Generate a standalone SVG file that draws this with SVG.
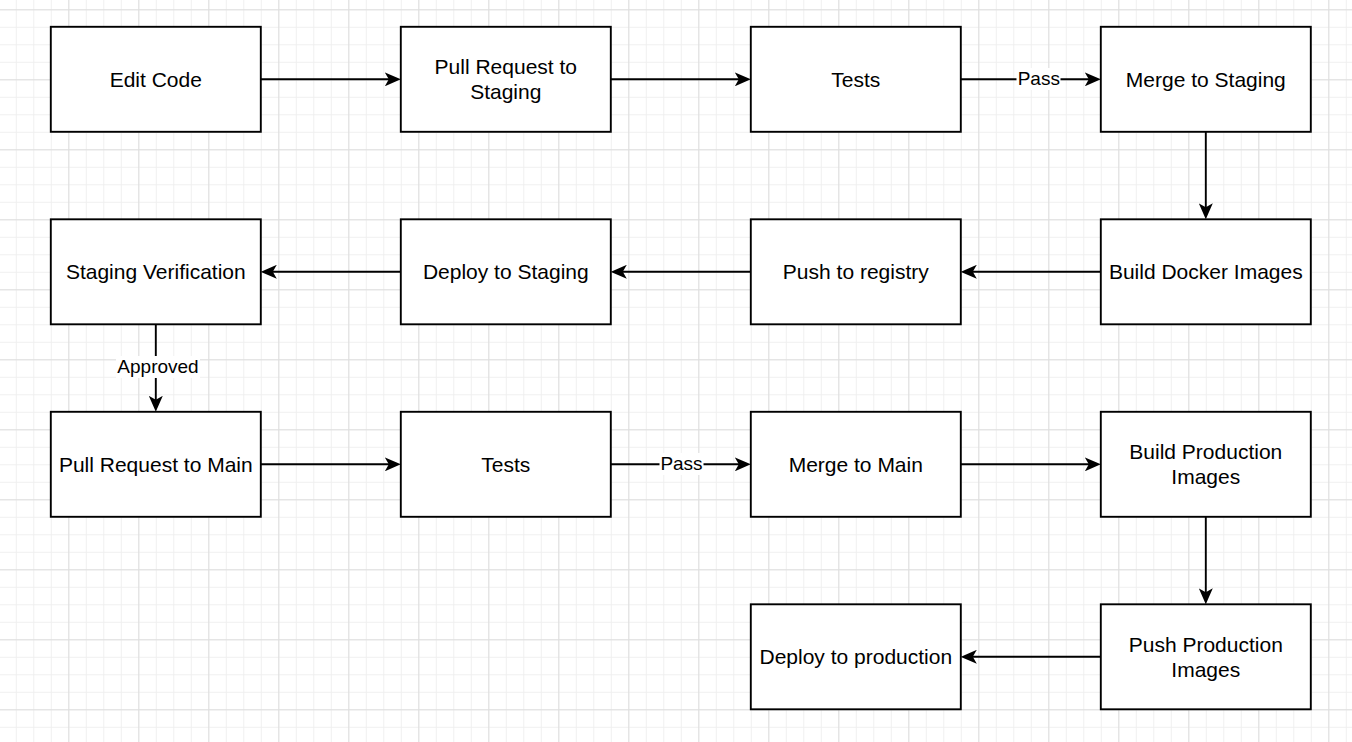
<svg xmlns="http://www.w3.org/2000/svg" width="1352" height="742" viewBox="0 0 1352 742">
<style>
.n{fill:#fff;stroke:#000;stroke-width:1.9}
.t{font-family:"Liberation Sans",Arial,sans-serif;font-size:21px;fill:#000;text-anchor:middle}
.e{fill:none;stroke:#000;stroke-width:1.9}
.l{font-family:"Liberation Sans",Arial,sans-serif;font-size:19px;fill:#000;text-anchor:middle}
.lb{fill:#fff}
</style>
<defs>
<pattern id="gmin" width="17.5" height="17.5" x="15.8" y="9.3" patternUnits="userSpaceOnUse">
<path d="M0.5 0V17.5M0 0.5H17.5" stroke="#efefef" stroke-width="1" fill="none"/>
</pattern>
<pattern id="gmaj" width="70" height="70" x="68.3" y="9.3" patternUnits="userSpaceOnUse">
<path d="M0.5 0V70M0 0.5H70" stroke="#dedede" stroke-width="1" fill="none"/>
</pattern>
<marker id="arr" viewBox="0 0 16 14" markerWidth="16" markerHeight="14" refX="6" refY="7" orient="auto" markerUnits="userSpaceOnUse">
<path d="M0 0L16 7L0 14L4 7Z" fill="#000"/>
</marker>
</defs>
<rect width="1352" height="742" fill="#fff"/>
<rect width="1352" height="742" fill="url(#gmin)"/>
<rect width="1352" height="742" fill="url(#gmaj)"/>

<g id="connectors">
<path class="e" d="M260.8 79.3H390.8" marker-end="url(#arr)"/>
<path class="e" d="M610.8 79.3H740.8" marker-end="url(#arr)"/>
<path class="e" d="M960.8 79.3H1090.8" marker-end="url(#arr)"/>
<path class="e" d="M1205.8 131.8V209.3" marker-end="url(#arr)"/>
<path class="e" d="M1100.8 271.8H970.8" marker-end="url(#arr)"/>
<path class="e" d="M750.8 271.8H620.8" marker-end="url(#arr)"/>
<path class="e" d="M400.8 271.8H270.8" marker-end="url(#arr)"/>
<path class="e" d="M155.8 324.3V401.8" marker-end="url(#arr)"/>
<path class="e" d="M260.8 464.3H390.8" marker-end="url(#arr)"/>
<path class="e" d="M610.8 464.3H740.8" marker-end="url(#arr)"/>
<path class="e" d="M960.8 464.3H1090.8" marker-end="url(#arr)"/>
<path class="e" d="M1205.8 516.8V594.3" marker-end="url(#arr)"/>
<path class="e" d="M1100.8 656.8H970.8" marker-end="url(#arr)"/>
<rect class="lb" x="1016.5" y="68" width="44" height="22"/>
<text class="l" x="1038.8" y="85.3">Pass</text>
<rect class="lb" x="659.5" y="453" width="44" height="22"/>
<text class="l" x="681.5" y="470.3">Pass</text>
<rect class="lb" x="116" y="356" width="84" height="22"/>
<text class="l" x="158" y="373">Approved</text>
</g>

<g id="edit-code"><rect class="n" x="50.8" y="26.8" width="210" height="105"/><text class="t" x="155.8" y="86.5">Edit Code</text></g>
<g id="pr-staging"><rect class="n" x="400.8" y="26.8" width="210" height="105"/><text class="t" x="505.8" y="74.3">Pull Request to</text><text class="t" x="505.8" y="99.3">Staging</text></g>
<g id="tests-1"><rect class="n" x="750.8" y="26.8" width="210" height="105"/><text class="t" x="855.8" y="86.5">Tests</text></g>
<g id="merge-staging"><rect class="n" x="1100.8" y="26.8" width="210" height="105"/><text class="t" x="1205.8" y="86.5">Merge to Staging</text></g>

<g id="staging-verification"><rect class="n" x="50.8" y="219.3" width="210" height="105"/><text class="t" x="155.8" y="279">Staging Verification</text></g>
<g id="deploy-staging"><rect class="n" x="400.8" y="219.3" width="210" height="105"/><text class="t" x="505.8" y="279">Deploy to Staging</text></g>
<g id="push-registry"><rect class="n" x="750.8" y="219.3" width="210" height="105"/><text class="t" x="855.8" y="279">Push to registry</text></g>
<g id="build-docker"><rect class="n" x="1100.8" y="219.3" width="210" height="105"/><text class="t" x="1205.8" y="279">Build Docker Images</text></g>

<g id="pr-main"><rect class="n" x="50.8" y="411.8" width="210" height="105"/><text class="t" x="155.8" y="471.5">Pull Request to Main</text></g>
<g id="tests-2"><rect class="n" x="400.8" y="411.8" width="210" height="105"/><text class="t" x="505.8" y="471.5">Tests</text></g>
<g id="merge-main"><rect class="n" x="750.8" y="411.8" width="210" height="105"/><text class="t" x="855.8" y="471.5">Merge to Main</text></g>
<g id="build-prod"><rect class="n" x="1100.8" y="411.8" width="210" height="105"/><text class="t" x="1205.8" y="459.3">Build Production</text><text class="t" x="1205.8" y="484.3">Images</text></g>

<g id="deploy-prod"><rect class="n" x="750.8" y="604.3" width="210" height="105"/><text class="t" x="855.8" y="664">Deploy to production</text></g>
<g id="push-prod"><rect class="n" x="1100.8" y="604.3" width="210" height="105"/><text class="t" x="1205.8" y="651.8">Push Production</text><text class="t" x="1205.8" y="676.8">Images</text></g>
</svg>
